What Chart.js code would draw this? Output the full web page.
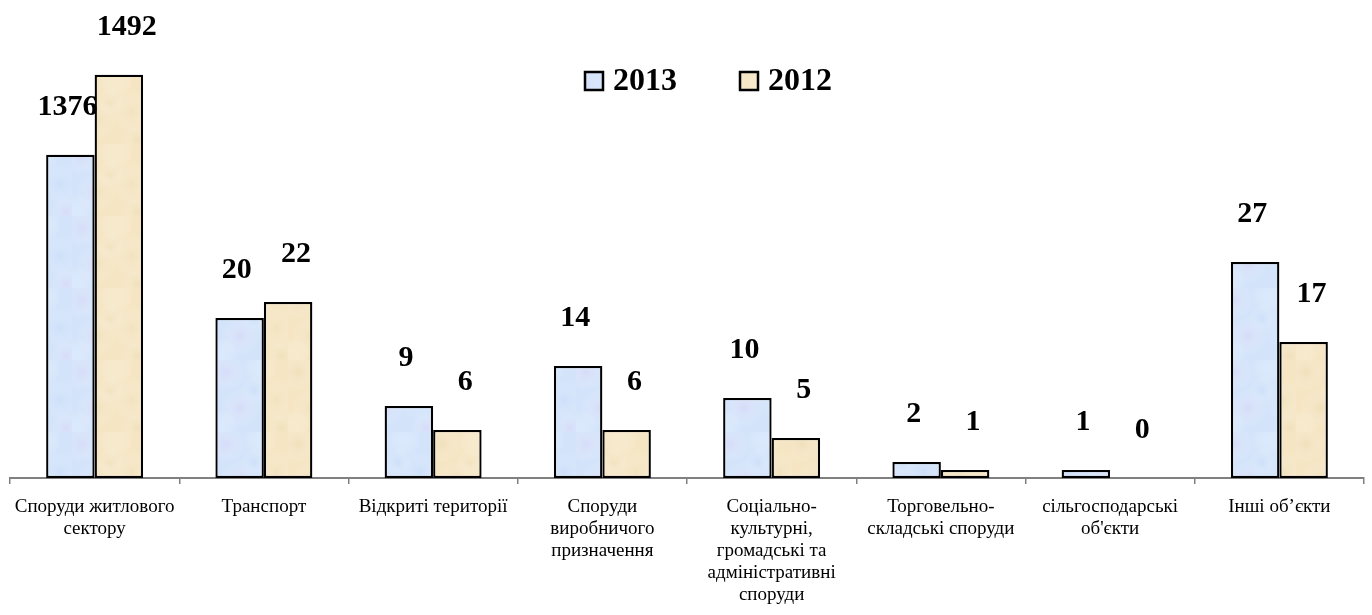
<!DOCTYPE html>
<html>
<head>
<meta charset="utf-8">
<script src="https://cdn.jsdelivr.net/npm/chart.js@4"></script>
<style>
  body { margin: 0; background: #fff; }
  canvas { display: block; }
</style>
</head>
<body>
<canvas id="fireChart" width="1372" height="615"></canvas>
<script>
// categories (multi-line labels as in the picture)
const categories = [
  ['Споруди житлового', 'сектору'],
  ['Транспорт'],
  ['Відкриті території'],
  ['Споруди', 'виробничого', 'призначення'],
  ['Соціально-', 'культурні,', 'громадські та', 'адміністративні', 'споруди'],
  ['Торговельно-', 'складські споруди'],
  ['сільгосподарські', "об'єкти"],
  ['Інші об’єкти']
];

// numbers printed above the bars
const values2013 = [1376, 20, 9, 14, 10, 2, 1, 27];
const values2012 = [1492, 22, 6, 6, 5, 1, 0, 17];

// bar lengths as drawn (the first group is drawn on a compressed scale)
const heights2013 = [40.4, 20, 9, 14, 10, 2, 1, 27];
const heights2012 = [50.4, 22, 6, 6, 5, 1, 0, 17];

const seriesNames = ['2013', '2012'];

// soft marbled fill like the original
function makePattern(base, spots) {
  const c = document.createElement('canvas');
  c.width = 72; c.height = 72;
  const g = c.getContext('2d');
  g.fillStyle = base;
  g.fillRect(0, 0, 72, 72);
  const pts = [[10, 12, 20], [44, 8, 18], [60, 40, 22], [24, 48, 20], [6, 66, 16], [38, 30, 14], [66, 68, 16]];
  pts.forEach((p, i) => {
    const rg = g.createRadialGradient(p[0], p[1], 0, p[0], p[1], p[2]);
    rg.addColorStop(0, spots[i % spots.length]);
    rg.addColorStop(1, 'rgba(255,255,255,0)');
    g.fillStyle = rg;
    g.fillRect(0, 0, 72, 72);
  });
  return g.createPattern(c, 'repeat');
}

const fill2013 = makePattern('#d2e3fa', ['rgba(218,210,246,0.45)', 'rgba(228,240,255,0.45)', 'rgba(196,218,248,0.4)']);
const fill2012 = makePattern('#f5e5c3', ['rgba(232,214,172,0.4)', 'rgba(250,238,212,0.45)', 'rgba(238,222,184,0.4)']);

// values written above bars
const barLabels = {
  id: 'barLabels',
  afterDatasetsDraw(chart) {
    const ctx = chart.ctx;
    const texts = [values2013, values2012];
    const shift = [-3, 8];
    ctx.save();
    ctx.font = 'bold 30px "Liberation Serif", "Times New Roman", serif';
    ctx.fillStyle = '#000';
    ctx.textAlign = 'center';
    ctx.textBaseline = 'middle';
    chart.data.datasets.forEach((ds, di) => {
      chart.getDatasetMeta(di).data.forEach((bar, i) => {
        ctx.fillText(String(texts[di][i]), bar.x + shift[di], bar.y - 48);
      });
    });
    ctx.restore();
  }
};

// legend sits inside the plot, near the top
const innerLegend = {
  id: 'innerLegend',
  afterDraw(chart) {
    const ctx = chart.ctx;
    ctx.save();
    ctx.font = 'bold 32px "Liberation Serif", "Times New Roman", serif';
    ctx.textBaseline = 'middle';
    ctx.textAlign = 'left';
    chart.data.datasets.forEach((ds, i) => {
      const x = 585 + i * 155, y = 81;
      ctx.fillStyle = ds.backgroundColor;
      ctx.fillRect(x, y - 9, 18, 18);
      ctx.strokeStyle = '#000';
      ctx.lineWidth = 2.5;
      ctx.strokeRect(x, y - 9, 18, 18);
      ctx.fillStyle = '#000';
      ctx.fillText(ds.label, x + 28, y + 1);
    });
    ctx.restore();
  }
};

new Chart(document.getElementById('fireChart'), {
  type: 'bar',
  data: {
    labels: categories,
    datasets: [
      { label: seriesNames[0], data: heights2013, backgroundColor: fill2013 },
      { label: seriesNames[1], data: heights2012, backgroundColor: fill2012 }
    ]
  },
  options: {
    responsive: false,
    animation: false,
    devicePixelRatio: 1,
    layout: { padding: { left: 10, right: 8, top: 38, bottom: 0 } },
    datasets: {
      bar: {
        categoryPercentage: 0.573,
        barPercentage: 1,
        borderColor: '#000',
        borderWidth: 2.3,
        borderSkipped: false
      }
    },
    plugins: {
      legend: { display: false },
      tooltip: { enabled: false }
    },
    scales: {
      y: { display: false, min: 0, max: 55 },
      x: {
        afterFit(scale) { scale.height = 137; },
        border: { display: true, color: '#808080', width: 2 },
        grid: { offset: true, drawOnChartArea: false, drawTicks: true, tickLength: 6, color: '#808080', lineWidth: 1.5 },
        ticks: {
          color: '#000',
          maxRotation: 0,
          autoSkip: false,
          padding: 12,
          font: { family: '"Liberation Serif", "Times New Roman", serif', size: 19, lineHeight: 1.16 }
        }
      }
    }
  },
  plugins: [barLabels, innerLegend]
});
</script>
</body>
</html>
